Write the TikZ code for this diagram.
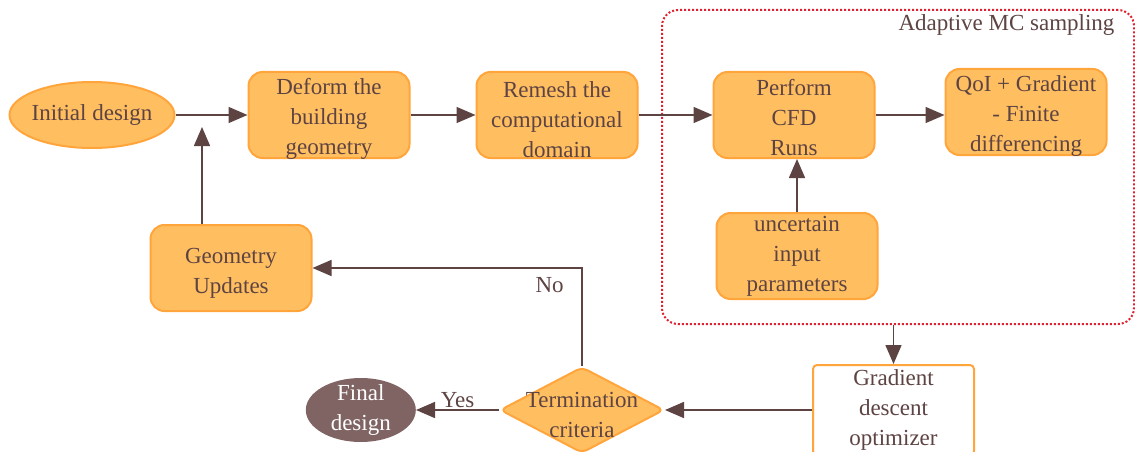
\documentclass[tikz,border=0pt]{standalone}
\usepackage{fontspec}
\setmainfont{Liberation Serif}
\usetikzlibrary{arrows.meta, positioning, shapes.geometric}
\definecolor{boxfill}{HTML}{FFBF60}
\definecolor{boxline}{HTML}{FFA53C}
\definecolor{ink}{HTML}{5E4343}
\definecolor{finalfill}{HTML}{806464}
\definecolor{mcred}{HTML}{E0202E}

\begin{document}
\begin{tikzpicture}[x=1pt, y=-1pt, >={Triangle[length=19pt,width=16pt]},
  every node/.style={font=\fontsize{23}{30}\selectfont, text=ink},
  proc/.style={draw=boxline, fill=boxfill, line width=2pt, rounded corners=14pt, align=center,
    minimum width=161pt, minimum height=86pt, inner sep=1pt},
  lowered/.style args={#1/#2}{text height=#1, text depth=#2},
  oval/.style={ellipse, draw=boxline, fill=boxfill, line width=2pt, align=center},
  flow/.style={->, draw=ink, line width=1.5pt}]
  \useasboundingbox (0,0) rectangle (1135,452);

  % sampling loop frame
  \node[draw=mcred, dash pattern=on 2pt off 2pt, line width=2pt, rounded corners=16pt,
    minimum width=472pt, minimum height=314pt] (mc) at (898,167) {};
  \node[anchor=north east] (mclabel) at ([xshift=-17pt, yshift=-2pt]mc.north east) {Adaptive MC sampling};

  % top row
  \node[oval, inner xsep=-3pt, minimum width=165pt, minimum height=66pt] (init) at (92,115) {Initial design};
  \node[proc, lowered=79pt/0pt, right=72pt of init] (deform) {Deform the\\building\\geometry};
  \node[proc, lowered=84pt/-5.7pt, right=65pt of deform] (remesh) {Remesh the\\computational\\domain};
  \node[proc, lowered=80pt/-3.7pt, right=74pt of remesh] (cfd) {Perform\\CFD\\Runs};
  \node[proc, lowered=79pt/0pt, right=69pt of cfd, yshift=3pt] (qoi) {QoI + Gradient\\- Finite\\differencing};
  \node[proc, below=53pt of cfd, xshift=3pt] (unc) {uncertain\\input\\parameters};

  % update loop
  \node[proc, lowered=50pt/0pt] (geo) at (231,268) {Geometry\\Updates};
  \node[diamond, draw=boxline, fill=boxfill, line width=2pt, rounded corners=6pt,
    minimum width=164pt, minimum height=86pt, inner sep=0pt,
    label={[align=center, yshift=-5pt]center:Termination\\criteria}] (term) at (582,410) {};
  \node[ellipse, fill=finalfill, text=white, align=center, inner xsep=0pt, inner ysep=-4pt,
    minimum width=110pt, minimum height=64pt, left=83pt of term] (final) {Final\\design};
  \node[draw=boxline, fill=white, line width=2pt, rounded corners=4pt, align=center,
    minimum width=161pt, minimum height=90pt, right=147pt of term] (gd) {Gradient\\descent\\optimizer};

  % arrows
  \coordinate (merge) at (202,127);
  \draw[flow] (init) -- (deform);
  \draw[flow] (deform) -- (remesh);
  \draw[flow] (remesh) -- (cfd);
  \draw[flow] (cfd.east) -- (cfd.east -| qoi.west);
  \draw[flow] (unc.north) -- (unc.north |- cfd.south);
  \draw[flow] (geo.north -| merge) -- (merge);
  \draw[flow] (mc.south -| gd) -- (gd);
  \draw[flow] (gd) -- (term);
  \draw[flow] (term) -- node[above, yshift=-2pt]{Yes} (final);
  \draw[flow] (term.north) |- node[below, pos=0.56, yshift=-5pt]{No} (geo.east);
\end{tikzpicture}
\end{document}
